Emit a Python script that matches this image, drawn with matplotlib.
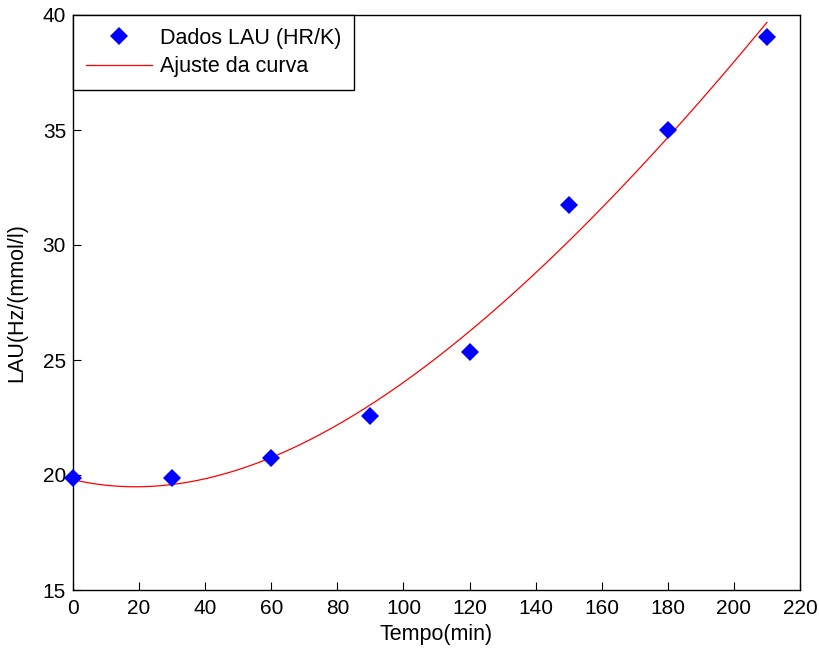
import matplotlib
matplotlib.use("Agg")
import matplotlib.pyplot as plt
import numpy as np

plt.rcParams['font.family'] = ['Liberation Sans', 'DejaVu Sans']

# measured data points
tempo = [0, 30, 60, 90, 120, 150, 180, 210]
lau = [19.85, 19.85, 20.72, 22.55, 25.33, 31.72, 35.0, 39.05]

# fitted curve
fit_t = [0, 15, 30, 45, 60, 75, 90, 105, 120, 135, 150, 165, 180, 195, 210]
fit_v = [19.88, 19.42, 19.49, 20.0, 20.80, 21.88, 23.19, 24.57, 26.09,
         27.97, 30.14, 32.46, 34.78, 37.10, 39.64]

x_ticks = list(range(0, 221, 20))
y_ticks = [15, 20, 25, 30, 35, 40]

# smooth the read curve samples
coef = np.polyfit(fit_t, fit_v, 4)
xf = np.linspace(fit_t[0], fit_t[-1], 300)
yf = np.polyval(coef, xf)

fig = plt.figure(figsize=(8.2, 6.49), dpi=100)
ax = fig.add_axes([73/820, 59/649, 727/820, 575/649])
ax.plot(tempo, lau, linestyle='none', marker='D', color='#0000ff', markersize=9.5,
        markeredgewidth=0, label='Dados LAU (HR/K)', clip_on=False, zorder=3)
ax.plot(xf, yf, color='#ff0000', linewidth=0.9, label='Ajuste da curva')
ax.set_xlim(0, 220)
ax.set_ylim(15, 40)
ax.set_xticks(x_ticks)
ax.set_yticks(y_ticks)
ax.tick_params(direction='in', length=6, labelsize=15, top=False, right=False, width=0.8)
ax.tick_params(axis='y', pad=5)
ax.tick_params(axis='x', pad=6.5)
for s in ax.spines.values():
    s.set_linewidth(1.0)
ax.set_xlabel('Tempo(min)', fontsize=15.5, labelpad=4)
ax.set_ylabel('LAU(Hz/(mmol/l)', fontsize=15.5, labelpad=11)
leg = ax.legend(loc='upper left', bbox_to_anchor=(0, 1), fontsize=15.5, fancybox=False,
                edgecolor='black', framealpha=1, borderaxespad=0, handlelength=3.05,
                handletextpad=0.4, borderpad=0.6, labelspacing=0.35)
leg.get_frame().set_linewidth(1.0)
fig.savefig('out.png', dpi=100)
